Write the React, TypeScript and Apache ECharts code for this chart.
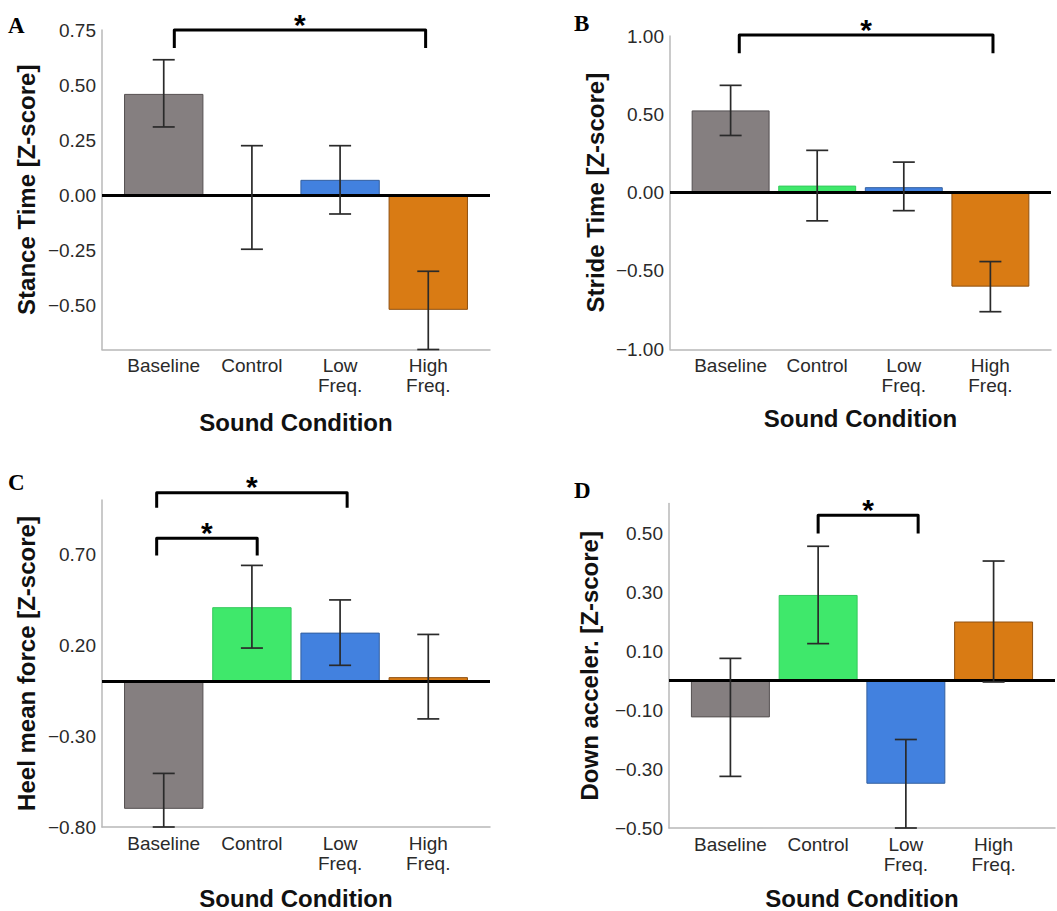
import React, { useEffect, useRef } from "react";
import * as echarts from "echarts";

// ---------- data ----------
const categories = ["Baseline", "Control", "Low\nFreq.", "High\nFreq."];
const positions = [1, 2, 3, 4];
const barColors = ["#857f80", "#3fe86b", "#4281df", "#d97b14"];
const barBorders = ["#555051", "#34c95c", "#34609f", "#8f5010"];

const stanceMean = [0.46, 0.0, 0.07, -0.52];
const stanceLow = [0.31, -0.245, -0.085, -0.7];
const stanceHigh = [0.615, 0.225, 0.225, -0.345];
const stanceTicks = [-0.5, -0.25, 0, 0.25, 0.5, 0.75];
const stanceBrackets = [[1.12, 3.97, 0.75, 0.668]];

const strideMean = [0.525, 0.045, 0.035, -0.6];
const strideLow = [0.365, -0.18, -0.115, -0.76];
const strideHigh = [0.685, 0.27, 0.195, -0.44];
const strideTicks = [-1, -0.5, 0, 0.5, 1];
const strideBrackets = [[1.1, 4.03, 1.006, 0.89]];

const heelMean = [-0.7, 0.41, 0.27, 0.025];
const heelLow = [-0.8, 0.185, 0.09, -0.205];
const heelHigh = [-0.505, 0.64, 0.45, 0.26];
const heelTicks = [-0.8, -0.3, 0.2, 0.7];
const heelBrackets = [
  [0.92, 3.08, 1.04, 0.958],
  [0.92, 2.06, 0.79, 0.694],
];

const downMean = [-0.125, 0.29, -0.35, 0.2];
const downLow = [-0.325, 0.125, -0.5, -0.005];
const downHigh = [0.075, 0.455, -0.2, 0.405];
const downTicks = [-0.5, -0.3, -0.1, 0.1, 0.3, 0.5];
const downBrackets = [[2.0, 3.14, 0.56, 0.498]];

const yTitles = [
  "Stance Time [Z-score]",
  "Stride Time [Z-score]",
  "Heel mean force [Z-score]",
  "Down acceler. [Z-score]",
];
const xTitle = "Sound Condition";
const panelLetters = ["A", "B", "C", "D"];

// ---------- layout ----------
const FONT = "'Liberation Sans', Arial, Helvetica, sans-serif";
const SERIF = "'Liberation Serif', 'Times New Roman', serif";
const X_MIN = 0.3;
const X_MAX = 4.7;

const panels = [
  {
    mean: stanceMean, low: stanceLow, high: stanceHigh, ticks: stanceTicks, brackets: stanceBrackets,
    yMin: -0.7, yMax: 0.75,
    grid: { left: 102, top: 30, width: 388, height: 319.5 },
    yGap: 64, xGap: 61, letter: { x: 8, y: 25 },
  },
  {
    mean: strideMean, low: strideLow, high: strideHigh, ticks: strideTicks, brackets: strideBrackets,
    yMin: -1, yMax: 1,
    grid: { left: 670, top: 36, width: 381, height: 313.3 },
    yGap: 63, xGap: 57, letter: { x: 574, y: 23 },
  },
  {
    mean: heelMean, low: heelLow, high: heelHigh, ticks: heelTicks, brackets: heelBrackets,
    yMin: -0.8, yMax: 1.0,
    grid: { left: 102, top: 500, width: 388, height: 329.3 },
    yGap: 64, xGap: 59, letter: { x: 8, y: 482 },
  },
  {
    mean: downMean, low: downLow, high: downHigh, ticks: downTicks, brackets: downBrackets,
    yMin: -0.5, yMax: 0.6,
    grid: { left: 669, top: 503.5, width: 386, height: 324.8 },
    yGap: 68, xGap: 58, letter: { x: 574, y: 490 },
  },
];

function fmtTick(v: number) {
  const s = Math.abs(v).toFixed(2);
  return v < -1e-9 ? "\u2212" + s : s;
}

function buildOption() {
  const grid: any[] = [];
  const xAxis: any[] = [];
  const yAxis: any[] = [];
  const series: any[] = [];
  const graphic: any[] = [];

  panels.forEach((p, i) => {
    grid.push({ ...p.grid, containLabel: false });
    xAxis.push({
      type: "value",
      gridIndex: i,
      min: X_MIN,
      max: X_MAX,
      name: xTitle,
      nameLocation: "middle",
      nameGap: p.xGap,
      nameTextStyle: { fontSize: 24, fontWeight: "bold", color: "#111", fontFamily: FONT },
      axisLine: { show: true, onZero: false, lineStyle: { color: "#b8b8b8", width: 1.5 } },
      axisTick: { show: false },
      splitLine: { show: false },
      axisLabel: {
        customValues: positions,
        formatter: (v: number) => categories[Math.round(v) - 1] ?? "",
        fontSize: 19,
        lineHeight: 20,
        color: "#2a2a2a",
        fontFamily: FONT,
        margin: 6,
      },
    });
    yAxis.push({
      type: "value",
      gridIndex: i,
      min: p.yMin,
      max: p.yMax,
      name: yTitles[i],
      nameLocation: "middle",
      nameRotate: 90,
      nameGap: p.yGap,
      nameTextStyle: { fontSize: 24, fontWeight: "bold", color: "#111", fontFamily: FONT },
      axisLine: { show: true, lineStyle: { color: "#b8b8b8", width: 1.5 } },
      axisTick: { show: false },
      splitLine: { show: false },
      axisLabel: {
        customValues: p.ticks,
        formatter: (v: number) => fmtTick(v),
        fontSize: 19,
        color: "#2a2a2a",
        fontFamily: FONT,
        margin: 6,
      },
    });

    const unit = p.grid.width / (X_MAX - X_MIN);
    series.push({
      type: "bar",
      xAxisIndex: i,
      yAxisIndex: i,
      barWidth: unit * 0.9,
      z: 2,
      data: positions.map((x, k) => ({
        value: [x, p.mean[k]],
        itemStyle: { color: barColors[k], borderColor: barBorders[k], borderWidth: 1 },
      })),
      markLine: {
        silent: true,
        symbol: ["none", "none"],
        label: { show: false },
        lineStyle: { color: "#000", width: 3, type: "solid" },
        data: [{ yAxis: 0 }],
        z: 3,
      },
    });

    series.push({
      type: "custom",
      xAxisIndex: i,
      yAxisIndex: i,
      z: 4,
      clip: false,
      encode: { x: 0, y: [1, 2] },
      data: positions.map((x, k) => [x, p.low[k], p.high[k]]),
      renderItem: (params: any, api: any) => {
        const x = api.value(0);
        const top = api.coord([x, api.value(2)]);
        const bot = api.coord([x, api.value(1)]);
        const hw = 11;
        const st = { stroke: "#2a2a2a", lineWidth: 1.7 };
        return {
          type: "group",
          children: [
            { type: "line", shape: { x1: top[0], y1: top[1], x2: bot[0], y2: bot[1] }, style: st },
            { type: "line", shape: { x1: top[0] - hw, y1: top[1], x2: top[0] + hw, y2: top[1] }, style: st },
            { type: "line", shape: { x1: bot[0] - hw, y1: bot[1], x2: bot[0] + hw, y2: bot[1] }, style: st },
          ],
        };
      },
    });

    series.push({
      type: "custom",
      xAxisIndex: i,
      yAxisIndex: i,
      z: 5,
      clip: false,
      encode: { x: [0, 1], y: [2, 3] },
      data: p.brackets,
      renderItem: (params: any, api: any) => {
        const x1 = api.value(0);
        const x2 = api.value(1);
        const yt = api.value(2);
        const yl = api.value(3);
        const a = api.coord([x1, yl]);
        const b = api.coord([x1, yt]);
        const c = api.coord([x2, yt]);
        const d = api.coord([x2, yl]);
        return {
          type: "group",
          children: [
            {
              type: "polyline",
              shape: { points: [a, b, c, d] },
              style: { stroke: "#000", lineWidth: 3, fill: null, lineJoin: "round" },
            },
            {
              type: "text",
              x: (b[0] + c[0]) / 2,
              y: b[1] - 6,
              style: {
                text: "*",
                fill: "#000",
                fontSize: 30,
                fontWeight: "bold",
                fontFamily: FONT,
                align: "center",
                verticalAlign: "middle",
              },
            },
          ],
        };
      },
    });

    graphic.push({
      type: "text",
      x: p.letter.x,
      y: p.letter.y,
      style: {
        text: panelLetters[i],
        fill: "#000",
        fontSize: 23,
        fontWeight: "bold",
        fontFamily: SERIF,
        verticalAlign: "middle",
      },
    });
  });

  return {
    animation: false,
    backgroundColor: "#ffffff",
    grid,
    xAxis,
    yAxis,
    series,
    graphic,
  };
}

export default function App() {
  const ref = useRef<HTMLDivElement>(null);
  useEffect(() => {
    if (!ref.current) return;
    const chart = echarts.init(ref.current, undefined, { renderer: "svg" });
    chart.setOption(buildOption());
    return () => chart.dispose();
  }, []);
  return (
    <div
      ref={ref}
      style={{ position: "absolute", left: 0, top: 0, width: 1057, height: 911, background: "#fff" }}
    />
  );
}
